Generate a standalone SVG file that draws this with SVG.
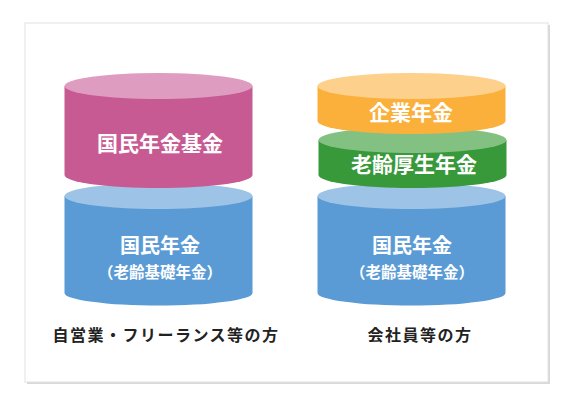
<svg xmlns="http://www.w3.org/2000/svg" width="568" height="408" viewBox="0 0 568 408">
<style>
.t{font-family:"Noto Sans CJK JP","Noto Sans",sans-serif;font-weight:700;fill:#ffffff;text-anchor:middle}
.l{font-family:"Noto Sans CJK JP","Noto Sans",sans-serif;font-weight:700;fill:#222222;text-anchor:middle;font-size:16px;letter-spacing:1.5px}
</style>
<rect width="568" height="408" fill="#ffffff"/>
<rect x="27" y="25" width="523" height="359" fill="#d8d8d8"/>
<rect x="25" y="23" width="523" height="359" fill="#ffffff" stroke="#e2e2e2" stroke-width="1"/>
<g id="left-base">
<path d="M64.5,196 L64.5,293 A94,12.5 0 0 0 252.5,293 L252.5,196 Z" fill="#5B9BD5"/>
<ellipse cx="158.5" cy="196" rx="94" ry="13" fill="#9DC3E6"/>
<text class="t" x="160" y="253" font-size="20">国民年金</text>
<text class="t" x="160" y="278" font-size="15.5">（老齢基礎年金）</text>
</g>
<g id="left-kikin">
<path d="M64.5,86 L64.5,175 A94,13 0 0 0 252.5,175 L252.5,86 Z" fill="#C85A93"/>
<ellipse cx="158.5" cy="86" rx="94" ry="13" fill="#DE9CC0"/>
<text class="t" x="160" y="151" font-size="21">国民年金基金</text>
</g>
<g id="right-base">
<path d="M317.5,196 L317.5,293 A94,12.5 0 0 0 505.5,293 L505.5,196 Z" fill="#5B9BD5"/>
<ellipse cx="411.5" cy="196" rx="94" ry="13" fill="#9DC3E6"/>
<text class="t" x="412" y="253" font-size="20">国民年金</text>
<text class="t" x="412" y="278" font-size="15.5">（老齢基礎年金）</text>
</g>
<g id="right-kosei">
<path d="M318.5,140 L318.5,175 A94,13 0 0 0 506.5,175 L506.5,140 Z" fill="#38993A"/>
<ellipse cx="412.5" cy="140" rx="94" ry="13" fill="#82C182"/>
<text class="t" x="414" y="172" font-size="21">老齢厚生年金</text>
</g>
<g id="right-kigyo">
<path d="M317.5,86 L317.5,121 A94,13 0 0 0 505.5,121 L505.5,86 Z" fill="#FBB03B"/>
<ellipse cx="411.5" cy="86" rx="94" ry="13" fill="#FDD08C"/>
<text class="t" x="411" y="120" font-size="21">企業年金</text>
</g>
<g id="labels">
<text class="l" x="166" y="341">自営業・フリーランス等の方</text>
<text class="l" x="420" y="341">会社員等の方</text>
</g>
</svg>
